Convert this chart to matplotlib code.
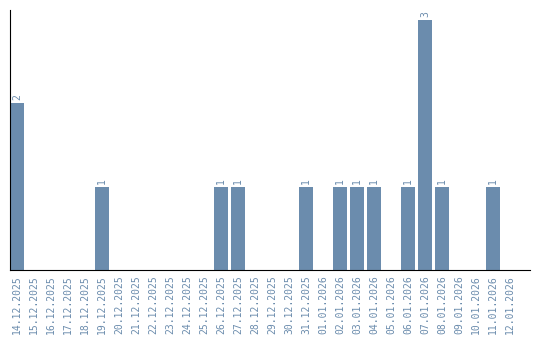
import matplotlib
matplotlib.use("Agg")
import matplotlib.pyplot as plt
import numpy as np
import pandas as pd

dates = pd.date_range("2025-12-14", "2026-01-12", freq="D")
date_labels = [d.strftime("%d.%m.%Y") for d in dates]
counts_by_date = {
    "14.12.2025": 2, "19.12.2025": 1, "26.12.2025": 1, "27.12.2025": 1,
    "31.12.2025": 1, "02.01.2026": 1, "03.01.2026": 1, "04.01.2026": 1,
    "06.01.2026": 1, "07.01.2026": 3, "08.01.2026": 1, "11.01.2026": 1,
}
counts = [counts_by_date.get(d, 0) for d in date_labels]

BAR = "#6b8cad"
slot = 17.0
bw = 14.0 / slot

fig = plt.figure(figsize=(5.4, 3.4), dpi=100)
ax = fig.add_axes([10 / 540, 70 / 340, 520 / 540, 260 / 340])

x = np.arange(len(date_labels))
ax.bar(x, counts, width=bw, align="edge", color=BAR)
for xi, c in zip(x, counts):
    if c > 0:
        ax.text(xi + bw / 2, c + 0.03, str(c), rotation=90, ha="center", va="bottom",
                fontsize=7, color=BAR, family="DejaVu Sans Mono")

ax.set_xlim(0, 520 / slot)
ax.set_ylim(0, 260 / 83.5)
ax.set_xticks(x + bw / 2)
ax.set_xticklabels(date_labels, rotation=90, fontsize=7, color=BAR, family="DejaVu Sans Mono")
ax.tick_params(axis="x", length=0, pad=4)
ax.set_yticks([])
for s in ["top", "right"]:
    ax.spines[s].set_visible(False)
ax.spines["left"].set_color("black")
ax.spines["bottom"].set_color("black")

fig.savefig("out.png", dpi=100)
